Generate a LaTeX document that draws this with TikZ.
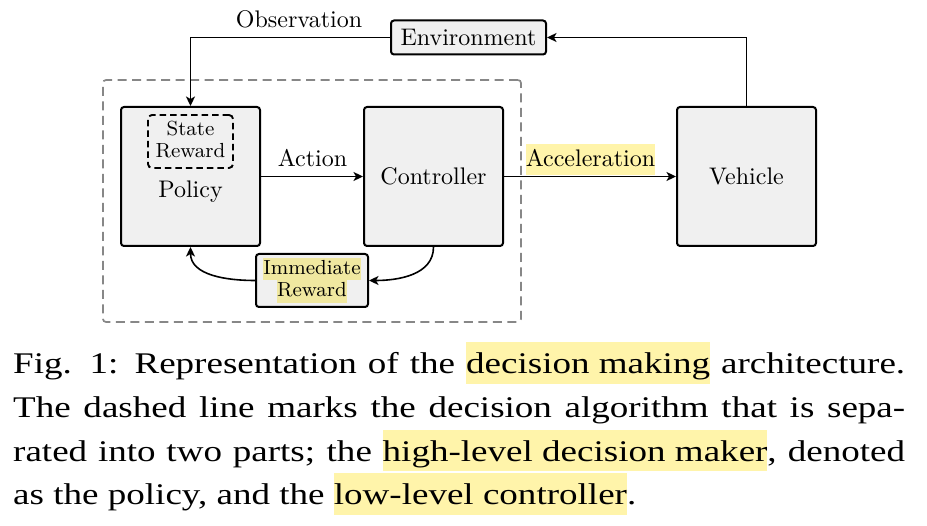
\documentclass[tikz,border=0pt]{standalone}
\usepackage{fontspec}
\newfontfamily\capfont{Liberation Serif}[FakeStretch=1.235]
\usetikzlibrary{arrows.meta}
\definecolor{boxfill}{RGB}{240,240,240}
\definecolor{hly}{RGB}{255,244,170}
\definecolor{hlg}{RGB}{240,232,160}
\definecolor{dgray}{RGB}{135,135,135}
\newcommand\bt[1]{\scalebox{2.4}{#1}}
\newcommand\stt[1]{\scalebox{2.4}{\fontsize{8.5}{10.2}\selectfont #1}}
\newcommand\hlcap[1]{{\setlength{\fboxsep}{0pt}\colorbox{hly}{\rule[-10pt]{0pt}{42pt}#1}}}
\newcommand\hlbox[2]{{\setlength{\fboxsep}{0pt}\colorbox{#1}{#2}}}
\begin{document}
\begin{tikzpicture}[x=1pt,y=-1pt,
  box/.style={draw=black, line width=2pt, fill=boxfill, rounded corners=3pt, inner sep=0pt},
  bigbox/.style={box, minimum width=139pt, minimum height=139pt},
  arr/.style={line width=1.6pt, -{Stealth[length=9.5pt,width=9pt,inset=2.5pt]}},
  lbl/.style={inner sep=0pt, anchor=base},
  capline/.style={inner sep=0pt, anchor=base west, font=\capfont\fontsize{30}{43}\selectfont}]
\useasboundingbox (0,0) rectangle (927,526);
% dashed algorithm frame
\node[draw=dgray, line width=1.7pt, dash pattern=on 9pt off 5.5pt, rounded corners=3pt,
      minimum width=418pt, minimum height=242pt, inner sep=0pt] (alg) at (312,201) {};
% main boxes
\node[bigbox] (policy) at (190.5,176.5) {};
\node[bigbox] (ctrl) at (433.5,176.5) {\bt{Controller}};
\node[bigbox] (vehicle) at (746.5,176.5) {\bt{Vehicle}};
\node[box, minimum width=155pt, minimum height=34pt] (env) at (468.5,37.5) {\bt{Environment}};
\node[draw=black, line width=1.9pt, dash pattern=on 6.5pt off 4pt, rounded corners=4pt,
      minimum width=85pt, minimum height=53pt, inner sep=0pt] (sr) at (190.5,141.5)
      {\stt{\begin{tabular}{@{}c@{}}State\\[-1pt]Reward\end{tabular}}};
\node[inner sep=0pt] (policylbl) at (190.5,192) {\bt{Policy}};
\node[box, minimum width=112pt, minimum height=53pt] (ir) at (312,280.5)
      {\stt{\def\arraystretch{0}\begin{tabular}{@{}c@{}}\hlbox{hlg}{\rule[-2.4pt]{0pt}{9.2pt}Immediate}\\\hlbox{hlg}{\rule[-2.4pt]{0pt}{9.2pt}Reward}\end{tabular}}};
% connectors
\draw[arr] (env.west) -| (policy.north);
\draw[arr] (vehicle.north) |- (env.east);
\draw[arr] (policy.east) -- (ctrl.west);
\draw[arr] (ctrl.east) -- (vehicle.west);
\draw[arr] (ctrl.south) to[out=-90,in=0] (ir.east);
\draw[arr] (ir.west) to[out=180,in=-90] (policy.south);
% labels
\node[lbl] (obs) at (299,28) {\bt{Observation}};
\node[lbl] (act) at (312.5,167) {\bt{Action}};
\node[lbl] (acc) at (590.5,167) {\bt{\hlbox{hly}{\rule[-3.3pt]{0pt}{12.9pt}Acceleration}}};
% caption
\node[capline] (c1) at (13,374) {\makebox[892pt][s]{Fig. 1: Representation of the \hlcap{decision making} architecture.}};
\node[capline] (c2) at (13,418) {\makebox[892pt][s]{The dashed line marks the decision algorithm that is sepa-}};
\node[capline] (c3) at (13,461.5) {\makebox[892pt][s]{rated into two parts; the \hlcap{high-level decision maker}, denoted}};
\node[capline] (c4) at (13,505) {as the policy, and the \hlcap{low-level controller}.};
\end{tikzpicture}
\end{document}
